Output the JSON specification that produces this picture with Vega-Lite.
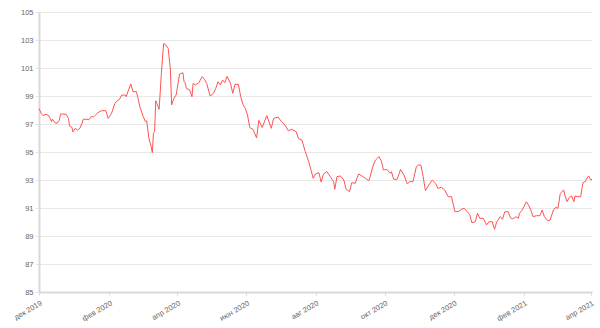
{
  "$schema": "https://vega.github.io/schema/vega-lite/v6.json",
  "width": 553,
  "height": 280,
  "autosize": {"type": "none"},
  "padding": {"left": 39, "top": 12, "right": 8, "bottom": 36},
  "background": "white",
  "config": {
    "view": {"stroke": null},
    "font": "Liberation Sans"
  },
  "data": {
    "values": [
      {"date": "2019-12-01", "value": 98.1},
      {"date": "2019-12-03", "value": 97.76},
      {"date": "2019-12-05", "value": 97.57},
      {"date": "2019-12-06", "value": 97.69},
      {"date": "2019-12-09", "value": 97.64},
      {"date": "2019-12-11", "value": 97.4},
      {"date": "2019-12-12", "value": 97.16},
      {"date": "2019-12-13", "value": 97.34},
      {"date": "2019-12-15", "value": 97.09},
      {"date": "2019-12-17", "value": 97.05},
      {"date": "2019-12-19", "value": 97.29},
      {"date": "2019-12-20", "value": 97.71},
      {"date": "2019-12-22", "value": 97.71},
      {"date": "2019-12-25", "value": 97.69},
      {"date": "2019-12-27", "value": 97.4},
      {"date": "2019-12-28", "value": 96.86},
      {"date": "2019-12-30", "value": 96.76},
      {"date": "2019-12-31", "value": 96.43},
      {"date": "2020-01-02", "value": 96.69},
      {"date": "2020-01-04", "value": 96.57},
      {"date": "2020-01-06", "value": 96.69},
      {"date": "2020-01-08", "value": 97.05},
      {"date": "2020-01-09", "value": 97.34},
      {"date": "2020-01-12", "value": 97.34},
      {"date": "2020-01-14", "value": 97.3},
      {"date": "2020-01-16", "value": 97.52},
      {"date": "2020-01-18", "value": 97.52},
      {"date": "2020-01-19", "value": 97.57},
      {"date": "2020-01-22", "value": 97.81},
      {"date": "2020-01-25", "value": 97.95},
      {"date": "2020-01-29", "value": 97.95},
      {"date": "2020-01-31", "value": 97.4},
      {"date": "2020-02-03", "value": 97.76},
      {"date": "2020-02-06", "value": 98.48},
      {"date": "2020-02-08", "value": 98.66},
      {"date": "2020-02-10", "value": 98.76},
      {"date": "2020-02-12", "value": 99.07},
      {"date": "2020-02-15", "value": 99.07},
      {"date": "2020-02-16", "value": 98.95},
      {"date": "2020-02-18", "value": 99.43},
      {"date": "2020-02-20", "value": 99.86},
      {"date": "2020-02-22", "value": 99.31},
      {"date": "2020-02-25", "value": 99.31},
      {"date": "2020-02-26", "value": 98.95},
      {"date": "2020-02-28", "value": 98.24},
      {"date": "2020-03-02", "value": 97.52},
      {"date": "2020-03-04", "value": 97.16},
      {"date": "2020-03-05", "value": 97.24},
      {"date": "2020-03-07", "value": 95.98},
      {"date": "2020-03-09", "value": 95.38},
      {"date": "2020-03-10", "value": 94.95},
      {"date": "2020-03-11", "value": 96.33},
      {"date": "2020-03-12", "value": 96.45},
      {"date": "2020-03-13", "value": 98.66},
      {"date": "2020-03-14", "value": 98.48},
      {"date": "2020-03-16", "value": 98.05},
      {"date": "2020-03-18", "value": 100.62},
      {"date": "2020-03-20", "value": 102.75},
      {"date": "2020-03-22", "value": 102.64},
      {"date": "2020-03-24", "value": 102.4},
      {"date": "2020-03-26", "value": 100.86},
      {"date": "2020-03-27", "value": 98.36},
      {"date": "2020-03-29", "value": 98.83},
      {"date": "2020-03-31", "value": 99.07},
      {"date": "2020-04-01", "value": 99.55},
      {"date": "2020-04-03", "value": 100.57},
      {"date": "2020-04-06", "value": 100.66},
      {"date": "2020-04-07", "value": 100.02},
      {"date": "2020-04-08", "value": 99.95},
      {"date": "2020-04-09", "value": 99.55},
      {"date": "2020-04-12", "value": 99.43},
      {"date": "2020-04-14", "value": 98.95},
      {"date": "2020-04-15", "value": 99.9},
      {"date": "2020-04-17", "value": 99.79},
      {"date": "2020-04-20", "value": 99.95},
      {"date": "2020-04-23", "value": 100.38},
      {"date": "2020-04-25", "value": 100.19},
      {"date": "2020-04-27", "value": 99.9},
      {"date": "2020-04-30", "value": 99.0},
      {"date": "2020-05-03", "value": 99.19},
      {"date": "2020-05-05", "value": 99.55},
      {"date": "2020-05-07", "value": 100.02},
      {"date": "2020-05-09", "value": 99.79},
      {"date": "2020-05-11", "value": 100.14},
      {"date": "2020-05-13", "value": 99.95},
      {"date": "2020-05-15", "value": 100.4},
      {"date": "2020-05-18", "value": 99.9},
      {"date": "2020-05-20", "value": 99.19},
      {"date": "2020-05-22", "value": 99.83},
      {"date": "2020-05-25", "value": 99.83},
      {"date": "2020-05-27", "value": 98.95},
      {"date": "2020-05-29", "value": 98.4},
      {"date": "2020-05-31", "value": 98.12},
      {"date": "2020-06-02", "value": 97.64},
      {"date": "2020-06-04", "value": 96.75},
      {"date": "2020-06-07", "value": 96.6},
      {"date": "2020-06-10", "value": 96.0},
      {"date": "2020-06-12", "value": 97.26},
      {"date": "2020-06-15", "value": 96.75},
      {"date": "2020-06-19", "value": 97.6},
      {"date": "2020-06-23", "value": 96.69},
      {"date": "2020-06-25", "value": 97.4},
      {"date": "2020-06-29", "value": 97.5},
      {"date": "2020-07-02", "value": 97.16},
      {"date": "2020-07-05", "value": 96.93},
      {"date": "2020-07-08", "value": 96.52},
      {"date": "2020-07-11", "value": 96.62},
      {"date": "2020-07-15", "value": 96.45},
      {"date": "2020-07-17", "value": 95.95},
      {"date": "2020-07-20", "value": 95.86},
      {"date": "2020-07-23", "value": 95.02},
      {"date": "2020-07-26", "value": 94.31},
      {"date": "2020-07-28", "value": 93.71},
      {"date": "2020-07-30", "value": 93.12},
      {"date": "2020-08-01", "value": 93.43},
      {"date": "2020-08-04", "value": 93.52},
      {"date": "2020-08-06", "value": 92.85},
      {"date": "2020-08-08", "value": 93.42},
      {"date": "2020-08-11", "value": 93.6},
      {"date": "2020-08-14", "value": 93.24},
      {"date": "2020-08-17", "value": 92.88},
      {"date": "2020-08-18", "value": 92.34},
      {"date": "2020-08-20", "value": 93.24},
      {"date": "2020-08-23", "value": 93.29},
      {"date": "2020-08-26", "value": 93.0},
      {"date": "2020-08-28", "value": 92.34},
      {"date": "2020-08-31", "value": 92.17},
      {"date": "2020-09-02", "value": 92.81},
      {"date": "2020-09-05", "value": 92.76},
      {"date": "2020-09-08", "value": 93.43},
      {"date": "2020-09-11", "value": 93.29},
      {"date": "2020-09-14", "value": 93.12},
      {"date": "2020-09-17", "value": 92.95},
      {"date": "2020-09-18", "value": 93.19},
      {"date": "2020-09-21", "value": 94.07},
      {"date": "2020-09-23", "value": 94.43},
      {"date": "2020-09-26", "value": 94.67},
      {"date": "2020-09-28", "value": 94.38},
      {"date": "2020-09-30", "value": 93.71},
      {"date": "2020-10-03", "value": 93.76},
      {"date": "2020-10-06", "value": 93.48},
      {"date": "2020-10-07", "value": 93.6},
      {"date": "2020-10-09", "value": 93.05},
      {"date": "2020-10-12", "value": 93.05},
      {"date": "2020-10-14", "value": 93.48},
      {"date": "2020-10-15", "value": 93.76},
      {"date": "2020-10-18", "value": 93.36},
      {"date": "2020-10-21", "value": 92.71},
      {"date": "2020-10-23", "value": 92.88},
      {"date": "2020-10-26", "value": 92.88},
      {"date": "2020-10-29", "value": 93.95},
      {"date": "2020-10-31", "value": 94.07},
      {"date": "2020-11-02", "value": 94.07},
      {"date": "2020-11-04", "value": 93.24},
      {"date": "2020-11-06", "value": 92.24},
      {"date": "2020-11-09", "value": 92.64},
      {"date": "2020-11-12", "value": 93.0},
      {"date": "2020-11-15", "value": 92.76},
      {"date": "2020-11-17", "value": 92.4},
      {"date": "2020-11-20", "value": 92.48},
      {"date": "2020-11-23", "value": 92.29},
      {"date": "2020-11-26", "value": 91.81},
      {"date": "2020-11-29", "value": 91.81},
      {"date": "2020-12-02", "value": 90.74},
      {"date": "2020-12-05", "value": 90.74},
      {"date": "2020-12-08", "value": 90.91},
      {"date": "2020-12-10", "value": 90.98},
      {"date": "2020-12-13", "value": 90.74},
      {"date": "2020-12-15", "value": 90.55},
      {"date": "2020-12-17", "value": 89.95},
      {"date": "2020-12-20", "value": 90.02},
      {"date": "2020-12-22", "value": 90.62},
      {"date": "2020-12-24", "value": 90.26},
      {"date": "2020-12-27", "value": 90.26},
      {"date": "2020-12-30", "value": 89.79},
      {"date": "2021-01-01", "value": 90.02},
      {"date": "2021-01-04", "value": 90.02},
      {"date": "2021-01-06", "value": 89.48},
      {"date": "2021-01-08", "value": 90.02},
      {"date": "2021-01-11", "value": 90.38},
      {"date": "2021-01-13", "value": 90.19},
      {"date": "2021-01-15", "value": 90.72},
      {"date": "2021-01-18", "value": 90.74},
      {"date": "2021-01-20", "value": 90.3},
      {"date": "2021-01-22", "value": 90.22},
      {"date": "2021-01-25", "value": 90.38},
      {"date": "2021-01-27", "value": 90.26},
      {"date": "2021-01-28", "value": 90.62},
      {"date": "2021-01-30", "value": 90.81},
      {"date": "2021-02-01", "value": 91.1},
      {"date": "2021-02-03", "value": 91.45},
      {"date": "2021-02-05", "value": 91.21},
      {"date": "2021-02-07", "value": 90.86},
      {"date": "2021-02-09", "value": 90.38},
      {"date": "2021-02-12", "value": 90.45},
      {"date": "2021-02-15", "value": 90.45},
      {"date": "2021-02-17", "value": 90.86},
      {"date": "2021-02-19", "value": 90.38},
      {"date": "2021-02-22", "value": 90.09},
      {"date": "2021-02-24", "value": 90.14},
      {"date": "2021-02-27", "value": 90.86},
      {"date": "2021-03-01", "value": 91.05},
      {"date": "2021-03-03", "value": 90.98},
      {"date": "2021-03-05", "value": 92.05},
      {"date": "2021-03-08", "value": 92.29},
      {"date": "2021-03-09", "value": 91.93},
      {"date": "2021-03-11", "value": 91.45},
      {"date": "2021-03-13", "value": 91.76},
      {"date": "2021-03-15", "value": 91.86},
      {"date": "2021-03-17", "value": 91.45},
      {"date": "2021-03-18", "value": 91.86},
      {"date": "2021-03-20", "value": 91.81},
      {"date": "2021-03-23", "value": 91.81},
      {"date": "2021-03-25", "value": 92.81},
      {"date": "2021-03-27", "value": 92.88},
      {"date": "2021-03-28", "value": 93.05},
      {"date": "2021-03-30", "value": 93.29},
      {"date": "2021-04-01", "value": 93.0},
      {"date": "2021-04-02", "value": 93.05}
    ]
  },
  "mark": {"type": "line", "color": "#ff5252", "strokeWidth": 1, "interpolate": "linear"},
  "encoding": {
    "x": {
      "field": "date",
      "type": "temporal",
      "scale": {"type": "utc", "domain": [{"year": 2019, "month": 12, "date": 1, "utc": true}, {"year": 2021, "month": 4, "date": 2, "utc": true}], "nice": false},
      "axis": {
        "title": null,
        "grid": false,
        "values": [
          {"year": 2019, "month": 12, "date": 1, "utc": true},
          {"year": 2020, "month": 2, "date": 1, "utc": true},
          {"year": 2020, "month": 4, "date": 1, "utc": true},
          {"year": 2020, "month": 6, "date": 1, "utc": true},
          {"year": 2020, "month": 8, "date": 1, "utc": true},
          {"year": 2020, "month": 10, "date": 1, "utc": true},
          {"year": 2020, "month": 12, "date": 1, "utc": true},
          {"year": 2021, "month": 2, "date": 1, "utc": true},
          {"year": 2021, "month": 4, "date": 1, "utc": true}
        ],
        "labelExpr": "['янв','фев','мар','апр','май','июн','июл','авг','сен','окт','ноя','дек'][utcmonth(datum.value)] + ' ' + utcyear(datum.value)",
        "labelAngle": -30,
        "labelAlign": "right",
        "labelBaseline": "top",
        "labelFontSize": 7.5,
        "labelColor": "#666666",
        "labelPadding": 4,
        "labelFlush": false,
        "labelOverlap": false,
        "domainColor": "#d9d9d9",
        "domainWidth": 2,
        "tickColor": "#d9d9d9",
        "tickSize": 3
      }
    },
    "y": {
      "field": "value",
      "type": "quantitative",
      "scale": {"domain": [85, 105], "nice": false, "zero": false},
      "axis": {
        "title": null,
        "values": [85, 87, 89, 91, 93, 95, 97, 99, 101, 103, 105],
        "labelFontSize": 7.5,
        "labelColor": "#666666",
        "labelPadding": 2,
        "labelFlush": false,
        "labelOverlap": false,
        "domainColor": "#d9d9d9",
        "domainWidth": 2,
        "tickColor": "#e6e6e6",
        "tickSize": 4,
        "gridColor": "#e8e8e8",
        "gridWidth": 1
      }
    }
  }
}
